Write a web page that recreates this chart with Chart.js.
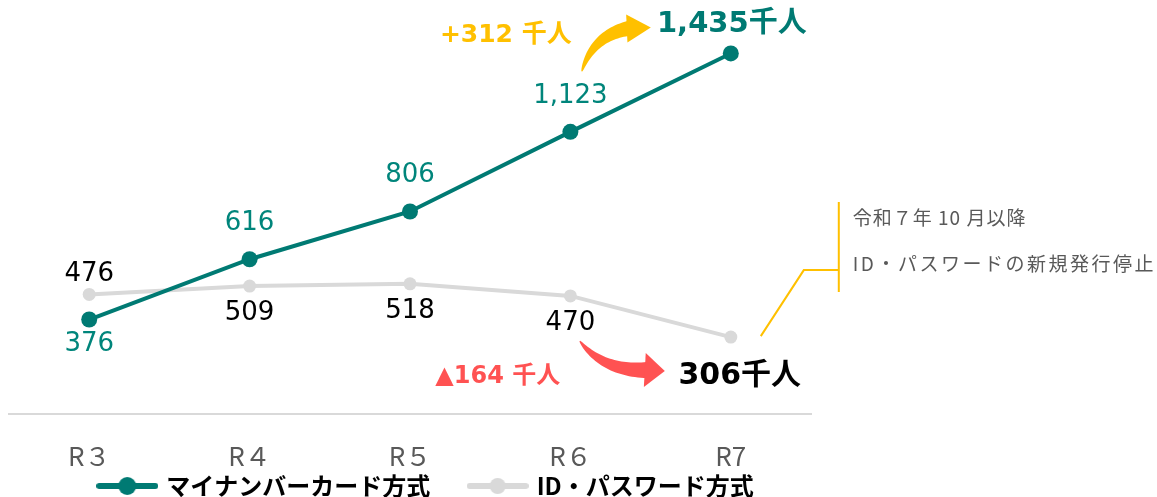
<!DOCTYPE html>
<html lang="ja">
<head>
<meta charset="utf-8">
<script src="https://cdn.jsdelivr.net/npm/chart.js@4.4.1/dist/chart.umd.min.js"></script>
<style>
  body { margin: 0; background: #fff; }
  canvas { display: block; }
</style>
</head>
<body>
<canvas id="chart" width="1157" height="497"></canvas>
<script>
// --- data ---
const years = ['R３', 'R４', 'R５', 'R６', 'R7'];
const myNumberCard = [376, 616, 806, 1123, 1435];
const idPassword = [476, 509, 518, 470, 306];
const cardLabelPos = ['below', 'above', 'above', 'above', null];
const idLabelPos = ['above', 'below', 'below', 'below', null];
const noteLines = ['令和７年 10 月以降', 'ID・パスワードの新規発行停止'];

const TEAL = '#007A73';
const TEAL_TEXT = '#00857B';
const GRAY = '#D9D9D9';
const GOLD = '#FFC000';
const RED = '#FF5252';
const NUM_FONT = '"DejaVu Sans", "Noto Sans CJK JP"';
const JP_FONT = '"Noto Sans CJK JP", sans-serif';

// legend marker: line with a dot
function legendMarker(color, r) {
    const c = document.createElement('canvas');
    c.width = 62; c.height = 20;
    const g = c.getContext('2d');
    g.strokeStyle = color; g.lineWidth = 6; g.lineCap = 'round';
    g.beginPath(); g.moveTo(3, 10); g.lineTo(59, 10); g.stroke();
    g.fillStyle = color;
    g.beginPath(); g.arc(31, 10, r, 0, Math.PI * 2); g.fill();
    return c;
}

// tapered curved arrow (quadratic body + triangle head)
function curvedArrow(ctx, p0, p1, p2, tip, bodyW, headW, color) {
    const N = 30, left = [], right = [];
    for (let i = 0; i <= N; i++) {
        const t = i / N;
        const x = (1-t)*(1-t)*p0[0] + 2*(1-t)*t*p1[0] + t*t*p2[0];
        const y = (1-t)*(1-t)*p0[1] + 2*(1-t)*t*p1[1] + t*t*p2[1];
        const dx = 2*(1-t)*(p1[0]-p0[0]) + 2*t*(p2[0]-p1[0]);
        const dy = 2*(1-t)*(p1[1]-p0[1]) + 2*t*(p2[1]-p1[1]);
        const len = Math.hypot(dx, dy) || 1;
        const hw = 0.5 + (bodyW / 2 - 0.5) * Math.pow(t, 0.7);
        left.push([x - dy/len*hw, y + dx/len*hw]);
        right.push([x + dy/len*hw, y - dx/len*hw]);
    }
    ctx.save();
    ctx.fillStyle = color;
    ctx.beginPath();
    left.forEach((p, i) => i ? ctx.lineTo(p[0], p[1]) : ctx.moveTo(p[0], p[1]));
    right.reverse().forEach(p => ctx.lineTo(p[0], p[1]));
    ctx.closePath();
    ctx.fill();
    // head
    const dx = tip[0] - p2[0], dy = tip[1] - p2[1];
    const len = Math.hypot(dx, dy) || 1;
    const nx = -dy/len, ny = dx/len;
    ctx.beginPath();
    ctx.moveTo(tip[0], tip[1]);
    ctx.lineTo(p2[0] + nx*headW/2 - dx/len*2, p2[1] + ny*headW/2 - dy/len*2);
    ctx.lineTo(p2[0] - nx*headW/2 - dx/len*2, p2[1] - ny*headW/2 - dy/len*2);
    ctx.closePath();
    ctx.fill();
    ctx.restore();
}

const annotations = {
    id: 'annotations',
    afterLayout(chart) {
        // nudge the legend a little to the right, like the original
        chart.legend.left += 17;
        chart.legend.right += 17;
    },
    afterDatasetsDraw(chart) {
        const ctx = chart.ctx;
        const card = chart.getDatasetMeta(0).data;
        const idp = chart.getDatasetMeta(1).data;
        ctx.save();
        ctx.textAlign = 'center';
        ctx.textBaseline = 'middle';

        // value labels
        ctx.font = '26px ' + NUM_FONT;
        ctx.fillStyle = TEAL_TEXT;
        card.forEach((pt, i) => {
            if (!cardLabelPos[i]) return;
            const dy = cardLabelPos[i] === 'above' ? -36 : 25;
            ctx.fillText(myNumberCard[i].toLocaleString(), pt.x, pt.y + dy);
        });
        ctx.fillStyle = '#000';
        idp.forEach((pt, i) => {
            if (!idLabelPos[i]) return;
            const dy = idLabelPos[i] === 'above' ? -20 : 27;
            ctx.fillText(idPassword[i].toLocaleString(), pt.x, pt.y + dy);
        });

        const last = years.length - 1;
        const cLast = card[last], iLast = idp[last];

        // totals
        ctx.font = 'bold 29px ' + NUM_FONT;
        ctx.fillStyle = TEAL;
        ctx.fillText(myNumberCard[last].toLocaleString() + '千人', cLast.x + 1, cLast.y - 29);
        ctx.font = 'bold 30px ' + NUM_FONT;
        ctx.fillStyle = '#000';
        ctx.fillText(idPassword[last].toLocaleString() + '千人', iLast.x + 9, iLast.y + 39);

        // differences
        const up = myNumberCard[last] - myNumberCard[last - 1];
        const down = idPassword[last - 1] - idPassword[last];
        ctx.font = 'bold 25px ' + NUM_FONT;
        ctx.fillStyle = GOLD;
        ctx.fillText('+' + up + ' 千人', cLast.x - 225, cLast.y - 18);
        ctx.font = 'bold 24px ' + NUM_FONT;
        ctx.fillStyle = RED;
        ctx.fillText('▲' + down + ' 千人', iLast.x - 233, iLast.y + 40);

        // arrows
        const cx = cLast.x, cy = cLast.y;
        curvedArrow(ctx, [cx - 149, cy + 18], [cx - 138, cy - 18], [cx - 102, cy - 25], [cx - 80, cy - 26], 15, 28, GOLD);
        const ix = iLast.x, iy = iLast.y;
        curvedArrow(ctx, [ix - 151, iy + 4], [ix - 128, iy + 34], [ix - 84, iy + 33], [ix - 66, iy + 34], 16, 34, RED);

        // note bracket
        ctx.strokeStyle = GOLD;
        ctx.lineWidth = 2;
        ctx.beginPath();
        ctx.moveTo(ix + 30, iy - 1);
        ctx.lineTo(ix + 73, iy - 67);
        ctx.lineTo(ix + 108, iy - 67);
        ctx.moveTo(ix + 108, iy - 135);
        ctx.lineTo(ix + 108, iy - 45);
        ctx.stroke();

        ctx.textAlign = 'left';
        ctx.font = '19px ' + JP_FONT;
        ctx.fillStyle = '#595959';
        ctx.letterSpacing = '1px';
        ctx.fillText(noteLines[0], ix + 122, iy - 119);
        ctx.letterSpacing = '2.5px';
        ctx.fillText(noteLines[1], ix + 122, iy - 73);
        ctx.restore();
    }
};

new Chart(document.getElementById('chart'), {
    type: 'line',
    data: {
        labels: years,
        datasets: [
            {
                label: 'マイナンバーカード方式',
                data: myNumberCard,
                borderColor: TEAL,
                backgroundColor: TEAL,
                borderWidth: 4,
                pointRadius: 8,
                pointHoverRadius: 8,
                pointBorderWidth: 0,
                tension: 0,
                clip: false
            },
            {
                label: 'ID・パスワード方式',
                data: idPassword,
                borderColor: GRAY,
                backgroundColor: GRAY,
                borderWidth: 4,
                pointRadius: 6.5,
                pointHoverRadius: 6.5,
                pointBorderWidth: 0,
                tension: 0,
                clip: false
            }
        ]
    },
    options: {
        responsive: false,
        animation: false,
        events: [],
        layout: { padding: { top: 12, left: 9, right: 346, bottom: -11 } },
        scales: {
            x: {
                offset: true,
                grid: { display: false },
                border: { color: GRAY, width: 2 },
                ticks: { color: '#595959', padding: 19, font: { family: JP_FONT, size: 26 } },
                afterFit(scale) { scale.height = 60; }
            },
            y: { display: false, min: 0, max: 1600 }
        },
        plugins: {
            tooltip: { enabled: false },
            legend: {
                position: 'bottom',
                labels: {
                    usePointStyle: true,
                    pointStyleWidth: 54,
                    boxHeight: 20,
                    padding: 0,
                    color: '#404040',
                    font: { family: JP_FONT, size: 24, weight: 'bold' },
                    generateLabels(chart) {
                        const markers = [legendMarker(TEAL, 9), legendMarker(GRAY, 8)];
                        return chart.data.datasets.map((ds, i) => ({
                            text: i === 0 ? ds.label + '　   ' : ds.label,
                            pointStyle: markers[i],
                            fillStyle: ds.borderColor,
                            strokeStyle: ds.borderColor,
                            lineWidth: 0,
                            datasetIndex: i
                        }));
                    }
                }
            }
        }
    },
    plugins: [annotations]
});
</script>
</body>
</html>
